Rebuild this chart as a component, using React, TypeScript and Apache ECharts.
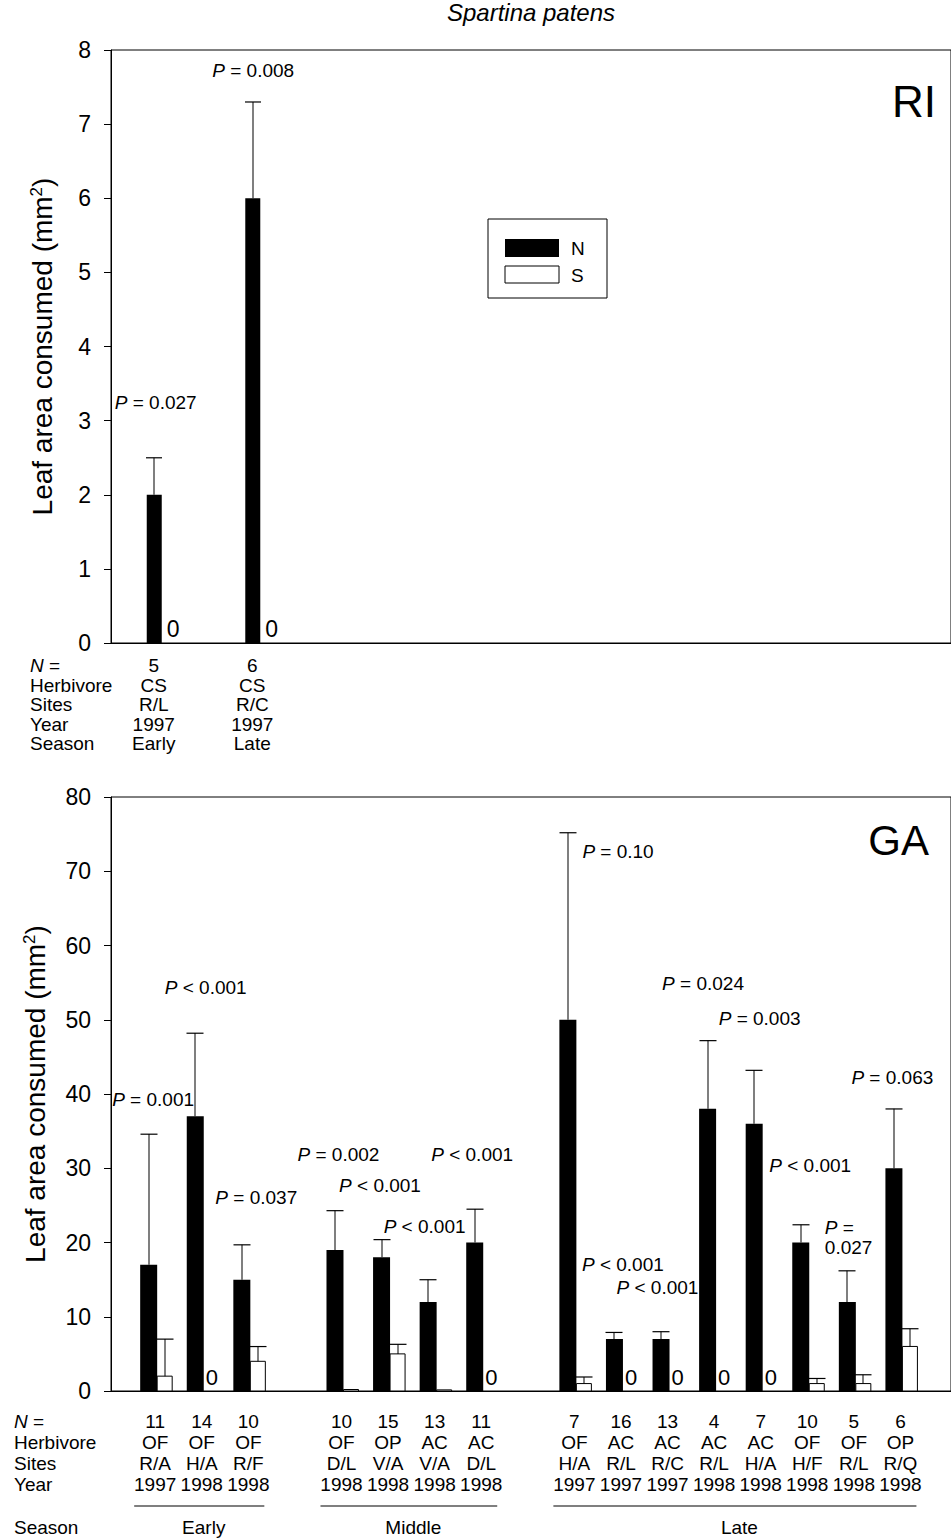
import React, { useEffect, useRef } from "react";
import * as echarts from "echarts";

const FONT = "Liberation Sans, Arial, Helvetica, sans-serif";

// ---------------- RI panel data ----------------
const riSlots = [0, 1];
const riN = [2.0, 6.0];
const riNErr = [2.5, 7.3];
const riS = [0, 0];
const riSErr = [0, 0];
const riP = ["= 0.027", "= 0.008"];
const riCount = ["5", "6"];
const riHerbivore = ["CS", "CS"];
const riSites = ["R/L", "R/C"];
const riYear = ["1997", "1997"];
const riSeason = ["Early", "Late"];
const riYTicks = [0, 8, 1]; // min, max, interval

// ---------------- GA panel data ----------------
const gaSlots = [0, 1, 2, 4, 5, 6, 7, 9, 10, 11, 12, 13, 14, 15, 16];
const gaN = [17, 37, 15, 19, 18, 12, 20, 50, 7, 7, 38, 36, 20, 12, 30];
const gaNErr = [34.6, 48.2, 19.7, 24.3, 20.4, 15.0, 24.5, 75.2, 7.9, 8.0, 47.2, 43.2, 22.4, 16.2, 38.0];
const gaS = [2, 0, 4, 0.2, 5, 0.15, 0, 1, 0, 0, 0, 0, 1, 1, 6];
const gaSErr = [7, 0, 6, 0.2, 6.3, 0.15, 0, 1.9, 0, 0, 0, 0, 1.7, 2.2, 8.4];
const gaP = ["= 0.001", "< 0.001", "= 0.037", "= 0.002", "< 0.001", "< 0.001", "< 0.001", "= 0.10", "< 0.001", "< 0.001", "= 0.024", "= 0.003", "< 0.001", "=\n0.027", "= 0.063"];
const gaCount = ["11", "14", "10", "10", "15", "13", "11", "7", "16", "13", "4", "7", "10", "5", "6"];
const gaHerbivore = ["OF", "OF", "OF", "OF", "OP", "AC", "AC", "OF", "AC", "AC", "AC", "AC", "OF", "OF", "OP"];
const gaSites = ["R/A", "H/A", "R/F", "D/L", "V/A", "V/A", "D/L", "H/A", "R/L", "R/C", "R/L", "H/A", "H/F", "R/L", "R/Q"];
const gaYear = ["1997", "1998", "1998", "1998", "1998", "1998", "1998", "1997", "1997", "1997", "1998", "1998", "1998", "1998", "1998"];
const gaSeasons = ["Early", "Middle", "Late"];
const gaSeasonSlots = [[0, 2], [4, 7], [9, 16]];
const gaYTicks = [0, 80, 10];

// ---------------- annotation layout (pixel dx, value y) ----------------
const riPLayout = [[-47, 3.24], [-48, 7.73]];
const gaPLayout = [
  [-45, 39.2], [-39, 54.4], [-35, 26.1], [-46, 31.9], [-51, 27.7], [-53, 22.1], [-52, 31.9],
  [6, 72.6], [-41, 17.0], [-53, 13.9], [-54, 54.9], [-44, 50.2], [-40, 30.4], [-31, 20.7], [-51, 42.2],
];

function barRender(W: number, side: "N" | "S", capW: number, zeroFont: number, zeroDx: number) {
  return (params: any, api: any) => {
    const slot = api.value(0);
    const v = api.value(1);
    const e = api.value(2);
    const base = api.coord([slot, 0]);
    const top = api.coord([slot, v]);
    const x0 = side === "N" ? base[0] - W : base[0];
    const children: any[] = [];
    if (v > 0) {
      children.push({
        type: "rect",
        shape: { x: x0, y: top[1], width: W, height: base[1] - top[1] },
        style: side === "N" ? { fill: "#000" } : { fill: "#fff", stroke: "#000", lineWidth: 1 },
      });
    }
    if (e > v) {
      const et = api.coord([slot, e]);
      const cx = Math.round(x0 + W / 2);
      children.push({ type: "rect", shape: { x: cx - 0.5, y: et[1], width: 1, height: top[1] - et[1] }, style: { fill: "#000" } });
      children.push({ type: "rect", shape: { x: cx - capW / 2, y: et[1] - 0.5, width: capW, height: 1.2 }, style: { fill: "#000" } });
    }
    if (side === "S" && v === 0) {
      children.push({
        type: "text",
        style: { text: "0", x: x0 + zeroDx, y: base[1] - 3, textAlign: "left", textVerticalAlign: "bottom", fontSize: zeroFont, fontFamily: FONT, fill: "#000" },
      });
    }
    return { type: "group", children };
  };
}

function pRender(slots: number[], layout: number[][], texts: string[], fs: number) {
  return (params: any, api: any) => {
    const i = params.dataIndex;
    const p = api.coord([slots[i], layout[i][1]]);
    return {
      type: "text",
      style: {
        text: "{i|P} " + texts[i],
        rich: { i: { fontStyle: "italic", fontSize: fs, fontFamily: FONT, fill: "#000" } },
        x: p[0] + layout[i][0],
        y: p[1],
        textAlign: "left",
        textVerticalAlign: "middle",
        fontSize: fs,
        fontFamily: FONT,
        fill: "#000",
        lineHeight: fs + 1,
      },
    };
  };
}

function tableRender(slots: number[], rows: string[][], offsets: number[], dx: number, fs: number) {
  return (params: any, api: any) => {
    const i = params.dataIndex;
    const b = api.coord([slots[i], 0]);
    return {
      type: "group",
      children: rows.map((r, k) => ({
        type: "text",
        style: { text: r[i], x: b[0] + dx, y: b[1] + offsets[k], textAlign: "center", textVerticalAlign: "middle", fontSize: fs, fontFamily: FONT, fill: "#000" },
      })),
    };
  };
}

function seasonRender(ranges: number[][], names: string[], lineOff: number, textOff: number, fs: number) {
  return (params: any, api: any) => {
    const i = params.dataIndex;
    const a = api.coord([ranges[i][0], 0]);
    const b = api.coord([ranges[i][1], 0]);
    return {
      type: "group",
      children: [
        { type: "rect", shape: { x: a[0] - 23, y: a[1] + lineOff - 0.5, width: b[0] + 14 - (a[0] - 23), height: 1 }, style: { fill: "#000" } },
        { type: "text", style: { text: names[i], x: (a[0] + b[0]) / 2, y: a[1] + textOff, textAlign: "center", textVerticalAlign: "middle", fontSize: fs, fontFamily: FONT, fill: "#000" } },
      ],
    };
  };
}

const axisName = "Leaf area consumed (mm{s|2})";
const nameStyle = {
  fontSize: 28,
  fontFamily: FONT,
  color: "#000",
  rich: { s: { fontSize: 17, verticalAlign: "top", fontFamily: FONT, color: "#000" } },
};

function yAxisCfg(grid: number, t: number[], margin: number, nameGap: number) {
  return {
    gridIndex: grid,
    type: "value",
    min: t[0],
    max: t[1],
    interval: t[2],
    axisLine: { show: true, onZero: false, lineStyle: { color: "#000", width: 1 } },
    axisTick: { show: true, length: 7, lineStyle: { color: "#000", width: 1 } },
    axisLabel: { color: "#000", fontSize: 23, fontFamily: FONT, margin },
    splitLine: { show: false },
    name: axisName,
    nameLocation: "middle",
    nameGap,
    nameTextStyle: nameStyle,
  };
}

function xAxisCfg(grid: number, min: number, max: number) {
  return {
    gridIndex: grid,
    type: "value",
    min,
    max,
    axisLine: { show: true, onZero: false, lineStyle: { color: "#000", width: 1 } },
    axisTick: { show: false },
    axisLabel: { show: false },
    splitLine: { show: false },
  };
}

export default function App() {
  const ref = useRef<HTMLDivElement>(null);
  useEffect(() => {
    if (!ref.current) return;
    const chart = echarts.init(ref.current, null, { renderer: "svg" });
    const riNData = riSlots.map((s, i) => [s, riN[i], riNErr[i]]);
    const riSData = riSlots.map((s, i) => [s, riS[i], riSErr[i]]);
    const gaNData = gaSlots.map((s, i) => [s, gaN[i], gaNErr[i]]);
    const gaSData = gaSlots.map((s, i) => [s, gaS[i], gaSErr[i]]);

    const option: any = {
      animation: false,
      backgroundColor: "#fff",
      grid: [
        { left: 111, right: -4, top: 50, height: 593, show: true, borderColor: "#000", borderWidth: 1, backgroundColor: "transparent" },
        { left: 111, right: -4, top: 797, height: 594, show: true, borderColor: "#000", borderWidth: 1, backgroundColor: "transparent" },
      ],
      xAxis: [xAxisCfg(0, -0.515, 8.01), xAxisCfg(1, -0.9914, 17.043)],
      yAxis: [yAxisCfg(0, riYTicks, 20, 55), yAxisCfg(1, gaYTicks, 20, 62)],
      series: [
        { type: "custom", name: "N", xAxisIndex: 0, yAxisIndex: 0, silent: true, renderItem: barRender(15, "N", 16, 23, 5), data: riNData },
        { type: "custom", name: "S", xAxisIndex: 0, yAxisIndex: 0, silent: true, renderItem: barRender(15, "S", 16, 23, 5), data: riSData },
        { type: "custom", xAxisIndex: 0, yAxisIndex: 0, silent: true, renderItem: pRender(riSlots, riPLayout, riP, 19), data: riSlots.map((s, i) => [s, riPLayout[i][1]]) },
        {
          type: "custom", xAxisIndex: 0, yAxisIndex: 0, silent: true,
          renderItem: tableRender(riSlots, [riCount, riHerbivore, riSites, riYear, riSeason], [22, 42, 61, 81, 100], -8, 19),
          data: riSlots.map((s) => [s, 0]),
        },
        { type: "custom", name: "N", xAxisIndex: 1, yAxisIndex: 1, silent: true, renderItem: barRender(17, "N", 17, 22, 2), data: gaNData },
        { type: "custom", name: "S", xAxisIndex: 1, yAxisIndex: 1, silent: true, renderItem: barRender(15, "S", 17, 22, 2), data: gaSData },
        { type: "custom", xAxisIndex: 1, yAxisIndex: 1, silent: true, renderItem: pRender(gaSlots, gaPLayout, gaP, 19), data: gaSlots.map((s, i) => [s, gaPLayout[i][1]]) },
        {
          type: "custom", xAxisIndex: 1, yAxisIndex: 1, silent: true,
          renderItem: tableRender(gaSlots, [gaCount, gaHerbivore, gaSites, gaYear], [30, 51, 72, 93], -2, 19),
          data: gaSlots.map((s) => [s, 0]),
        },
        {
          type: "custom", xAxisIndex: 1, yAxisIndex: 1, silent: true,
          renderItem: seasonRender(gaSeasonSlots, gaSeasons, 115, 136, 19),
          data: gaSeasonSlots.map((r) => [r[0], 0]),
        },
      ],
      graphic: [
        { type: "text", x: 531, y: 12, style: { text: "Spartina patens", fontSize: 24, fontStyle: "italic", fontFamily: FONT, fill: "#000", textAlign: "center", textVerticalAlign: "middle" } },
        { type: "text", x: 936, y: 101, style: { text: "RI", fontSize: 44, fontFamily: FONT, fill: "#000", textAlign: "right", textVerticalAlign: "middle" } },
        { type: "text", x: 929, y: 840, style: { text: "GA", fontSize: 42, fontFamily: FONT, fill: "#000", textAlign: "right", textVerticalAlign: "middle" } },
        // legend
        { type: "rect", shape: { x: 488, y: 219, width: 119, height: 79 }, style: { fill: "#fff", stroke: "#000", lineWidth: 1 } },
        { type: "rect", shape: { x: 505, y: 239, width: 54, height: 18 }, style: { fill: "#000" } },
        { type: "rect", shape: { x: 505, y: 266, width: 54, height: 17 }, style: { fill: "#fff", stroke: "#000", lineWidth: 1 } },
        { type: "text", x: 571, y: 248, style: { text: "N", fontSize: 19, fontFamily: FONT, fill: "#000", textAlign: "left", textVerticalAlign: "middle" } },
        { type: "text", x: 571, y: 275, style: { text: "S", fontSize: 19, fontFamily: FONT, fill: "#000", textAlign: "left", textVerticalAlign: "middle" } },
        // row headers top
        ...[["{i|N} =", 665], ["Herbivore", 685], ["Sites", 704], ["Year", 724], ["Season", 743]].map(([t, y]) => ({
          type: "text", x: 30, y: y as number,
          style: { text: t as string, rich: { i: { fontStyle: "italic", fontSize: 19, fontFamily: FONT, fill: "#000" } }, fontSize: 19, fontFamily: FONT, fill: "#000", textAlign: "left", textVerticalAlign: "middle" },
        })),
        // row headers bottom
        ...[["{i|N} =", 1421], ["Herbivore", 1442], ["Sites", 1463], ["Year", 1484], ["Season", 1527]].map(([t, y]) => ({
          type: "text", x: 14, y: y as number,
          style: { text: t as string, rich: { i: { fontStyle: "italic", fontSize: 19, fontFamily: FONT, fill: "#000" } }, fontSize: 19, fontFamily: FONT, fill: "#000", textAlign: "left", textVerticalAlign: "middle" },
        })),
      ],
    };
    chart.setOption(option);
    return () => chart.dispose();
  }, []);
  return <div ref={ref} style={{ position: "absolute", left: 0, top: 0, width: 951, height: 1538 }} />;
}
